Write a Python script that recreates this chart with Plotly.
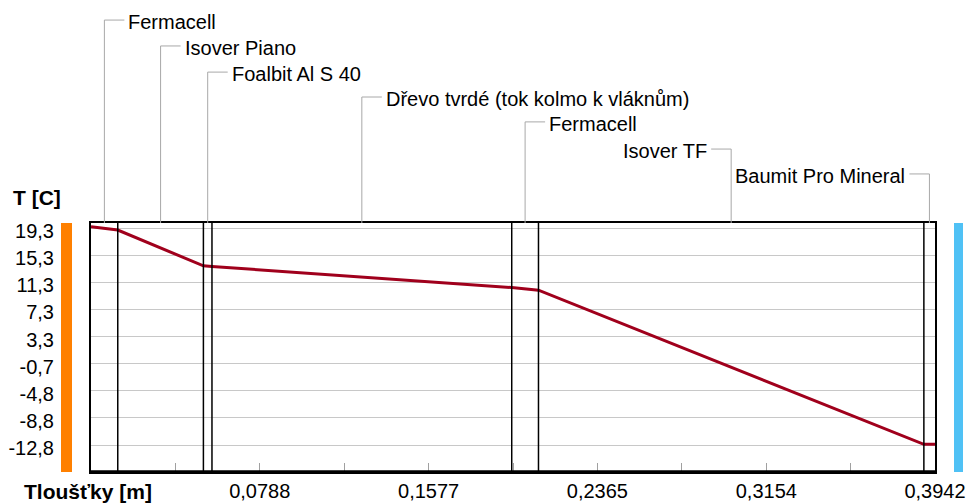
import plotly.graph_objects as go

# ---- data ----
layer_names = ["Fermacell", "Isover Piano", "Foalbit Al S 40",
               "Dřevo tvrdé (tok kolmo k vláknům)", "Fermacell",
               "Isover TF", "Baumit Pro Mineral"]
layer_thickness = [0.0125, 0.04, 0.004, 0.14, 0.0125, 0.18, 0.0052]  # m

temp_x = [0.0, 0.0125, 0.0525, 0.0565, 0.1965, 0.209, 0.389, 0.3942]
temp_t = [19.5, 19.0, 13.7, 13.6, 10.5, 10.1, -12.7, -12.7]

y_tickvals = [19.3, 15.2875, 11.275, 7.2625, 3.25, -0.7625, -4.775, -8.7875, -12.8]
y_ticktext = ["19,3", "15,3", "11,3", "7,3", "3,3", "-0,7", "-4,8", "-8,8", "-12,8"]

x_tickvals = [0.0394, 0.0788, 0.1182, 0.1577, 0.1971, 0.2365, 0.2759, 0.3154, 0.3548, 0.3942]
x_ticktext = ["", "0,0788", "", "0,1577", "", "0,2365", "", "0,3154", "", "0,3942"]

# ---- layout helpers ----
FONT = "Liberation Sans, Arial, sans-serif"
label_levels = [1.815, 1.711, 1.606, 1.506, 1.406, 1.297, 1.197]  # paper y of leader stubs
label_side = ["r", "r", "r", "r", "r", "l", "l"]

bounds = []
acc = 0.0
for t in layer_thickness:
    bounds.append((acc, acc + t))
    acc += t

fig = go.Figure()
fig.add_trace(go.Scatter(x=temp_x, y=temp_t, mode="lines",
                         line=dict(color="#A0001C", width=3), showlegend=False,
                         hoverinfo="skip"))

shapes = []
annotations = []
# layer boundary lines
for (a, b) in bounds[:-1]:
    shapes.append(dict(type="line", xref="x", yref="paper", x0=b, x1=b, y0=0, y1=1,
                       line=dict(color="black", width=1.5)))
# leader lines + labels
for name, (a, b), lvl, side in zip(layer_names, bounds, label_levels, label_side):
    mid = (a + b) / 2
    shapes.append(dict(type="line", xref="x", yref="paper", x0=mid, x1=mid, y0=1, y1=lvl,
                       line=dict(color="#A8A8A8", width=1)))
    sgn = 1 if side == "r" else -1
    shapes.append(dict(type="line", xref="x", yref="paper", xsizemode="pixel", xanchor=mid,
                       x0=0, x1=sgn * 20, y0=lvl, y1=lvl,
                       line=dict(color="#A8A8A8", width=1)))
    annotations.append(dict(text=name, xref="x", yref="paper", x=mid, y=lvl,
                            xanchor="left" if side == "r" else "right", yanchor="middle",
                            xshift=sgn * 22, yshift=-2, showarrow=False,
                            font=dict(family=FONT, size=20, color="black")))
# bottom thick axis line
shapes.append(dict(type="line", xref="paper", yref="paper", x0=0, x1=1, y0=0, y1=0,
                   line=dict(color="black", width=3.5)))
# side bars
shapes.append(dict(type="rect", xref="paper", yref="paper", xsizemode="pixel", xanchor=0,
                   x0=-30, x1=-19, y0=0, y1=1, fillcolor="#FF8000", line=dict(width=0)))
shapes.append(dict(type="rect", xref="paper", yref="paper", xsizemode="pixel", xanchor=1,
                   x0=19, x1=28, y0=0, y1=1, fillcolor="#4FC1F5", line=dict(width=0)))

# axis titles
annotations.append(dict(text="<b>T [C]</b>", xref="paper", yref="paper", x=0, y=1,
                        xanchor="left", yanchor="middle", xshift=-80, yshift=26,
                        showarrow=False, font=dict(family=FONT, size=21, color="black")))
annotations.append(dict(text="<b>Tloušťky [m]</b>", xref="paper", yref="paper", x=0, y=0,
                        xanchor="left", yanchor="middle", xshift=-69, yshift=-19,
                        showarrow=False, font=dict(family=FONT, size=21, color="black")))

fig.update_layout(
    width=969, height=504, autosize=False,
    margin=dict(l=91, r=34, t=223, b=32, pad=0),
    paper_bgcolor="white", plot_bgcolor="white",
    font=dict(family=FONT, size=20, color="black"),
    shapes=shapes, annotations=annotations, showlegend=False,
    xaxis=dict(range=[0, 0.3942], tickmode="array", tickvals=x_tickvals, ticktext=x_ticktext,
               ticks="inside", ticklen=9, tickcolor="#A0A0A0", tickwidth=1,
               showgrid=False, zeroline=False, showline=True, linecolor="black",
               linewidth=2, mirror=True, ticklabelstandoff=0, automargin=False,
               tickfont=dict(family=FONT, size=20, color="black")),
    yaxis=dict(range=[-16.79, 20.04], tickmode="array", tickvals=y_tickvals, ticktext=y_ticktext,
               ticks="", showgrid=True, gridcolor="#C8C8C8", gridwidth=1,
               zeroline=False, showline=True, linecolor="black", linewidth=2, mirror=True,
               ticklabelstandoff=31, ticklabelshift=3, automargin=False,
               tickfont=dict(family=FONT, size=20, color="black")),
)

fig.write_html("out.html", config={"displayModeBar": False},
               post_script="document.body.style.margin='0';document.body.style.padding='0';"
                           "document.body.style.overflow='hidden';")
